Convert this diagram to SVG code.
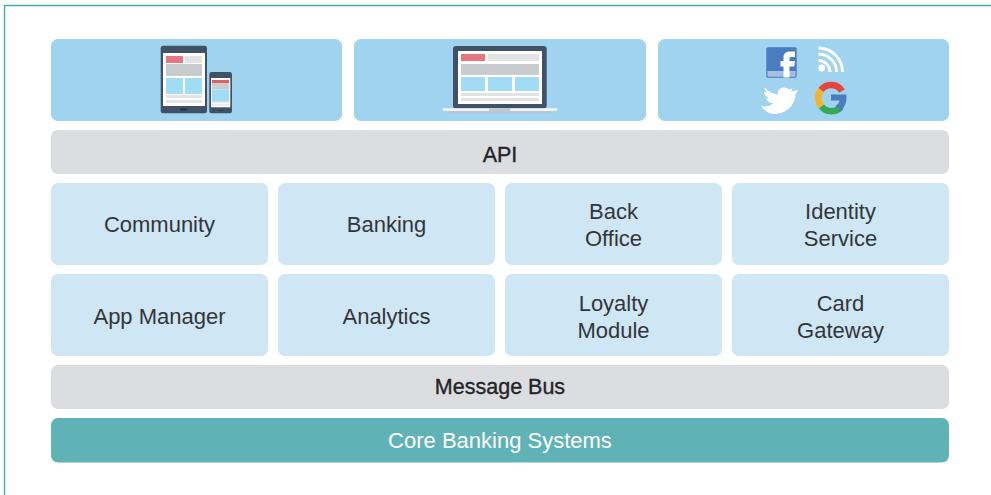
<svg xmlns="http://www.w3.org/2000/svg" width="991" height="495" viewBox="0 0 991 495">
<style>
text{font-family:"Liberation Sans",Arial,sans-serif;font-size:22px;text-anchor:middle;fill:#333639}
.strong{font-size:21.500px;fill:#232427;stroke:#232427;stroke-width:.35px}
.top{fill:#9fd3ef}.gray{fill:#dcdde0}.mod{fill:#cfe6f4}.core{fill:#5fb3b6}
.dark{fill:#3f5266}.scr{fill:#fff}.red{fill:#e8767e}.lg{fill:#e2e3e3}.mg{fill:#c9cccf}.bl{fill:#a0dcf4}
</style>
<rect width="991" height="495" fill="#fff"/>
<path d="M4.500 495V5.500H991" fill="none" stroke="#3fb0ac" stroke-width="1.400"/>
<g id="connectors"/>
<g id="channel-mobile">
<rect class="top" x="51" y="39" width="291" height="82" rx="7"/>
<rect class="dark" x="160.700" y="45.700" width="46.300" height="67.600" rx="2.500"/>
<rect class="scr" x="163" y="53" width="42" height="53"/>
<rect class="red" x="166" y="56" width="17" height="7"/><rect class="lg" x="185" y="56" width="17" height="7"/>
<rect class="mg" x="166" y="64" width="36" height="12"/>
<rect class="bl" x="166" y="78" width="17" height="16"/><rect class="bl" x="185" y="78" width="17" height="16"/>
<rect class="lg" x="166" y="95" width="36" height="3"/><rect class="lg" x="166" y="100" width="36" height="3"/>
<rect x="180" y="108" width="7.500" height="2.800" rx="1.400" fill="#2c3b4a"/>
<rect class="dark" x="209.300" y="72" width="22.700" height="41.300" rx="2.500"/>
<rect class="scr" x="211" y="78" width="19.300" height="29.300"/>
<rect x="212" y="80" width="17" height="3" fill="#dd5f62"/><rect class="mg" x="212" y="83" width="17" height="6.300"/><rect class="bl" x="212" y="89.300" width="17" height="12.400"/>
<rect class="lg" x="212" y="102.300" width="17" height="1"/><rect class="lg" x="212" y="104.300" width="17" height="1"/>
<rect x="218.300" y="110" width="5" height="1" fill="#2c3b4a"/>
</g>
<g id="channel-web">
<rect class="top" x="354" y="39" width="292" height="82" rx="7"/>
<rect class="dark" x="453" y="46" width="93.700" height="62.500" rx="3"/>
<rect class="scr" x="458" y="51" width="84" height="53"/>
<rect class="red" x="461" y="54" width="24" height="7"/><rect class="lg" x="488" y="54" width="51" height="7"/>
<rect class="mg" x="461" y="64" width="78" height="11"/>
<rect class="bl" x="461" y="77" width="24" height="14"/><rect class="bl" x="488" y="77" width="24" height="14"/><rect class="bl" x="515" y="77" width="24" height="14"/>
<rect class="lg" x="461" y="93" width="78" height="3"/><rect class="lg" x="461" y="98" width="78" height="3"/>
<path d="M442.700 108.300H557.300V110.500L555 111H445L442.700 110.500Z" fill="#f1f5f7"/>
<path d="M445 111H555L550 113H450Z" fill="#b9c6d0"/>
<rect x="489" y="108.300" width="21" height="3" fill="#bfc8ce"/>
</g>
<g id="channel-social">
<rect class="top" x="658" y="39" width="291" height="82" rx="7"/>
<rect x="766.300" y="47.300" width="30.400" height="30.400" rx="1.500" fill="#4a7cc0"/>
<rect x="767.500" y="71" width="28" height="5.700" fill="#a9bfe2"/>
<path d="M783.500 77.500V66.500H780.500V61H783.500V57.500C783.500 53.500 786 51.500 790 51.500H795V57H791.500C790 57 789.500 57.500 789.500 59V61H795L794.300 66.500H789.500V77.500Z" fill="#fff"/>
<circle cx="821.700" cy="68" r="3.400" fill="#fff"/>
<path d="M818.500 60.500A11.500 11.500 0 0 1 830 72M818.500 54A18 18 0 0 1 836.500 72M818.500 48A24 24 0 0 1 842.500 72" fill="none" stroke="#fff" stroke-width="2.800"/>
<path d="M761 106C766 107 770 106 773 103.500C769 103 767 101 766 98.500L769 98.300C766 97 764 94.500 764 91.500L767 92.300C764.500 90 764 87 765.500 88C769 92 773 94 778 94.500C777.500 90 781 87 785 87.700C787 88 788 88.500 789 89.500L793 88L791 91.500L798.500 90L795.500 94C795.500 104 787 114 774 114C769 114 764.500 110.500 761 106Z" fill="#fff"/>
<g fill="none" stroke-width="6.500">
<path d="M842 91A12.800 12.800 0 0 0 821 90" stroke="#e5453a"/>
<path d="M821 90A12.800 12.800 0 0 0 821.500 106.500" stroke="#f3b32a"/>
<path d="M821.500 106.500A12.800 12.800 0 0 0 841 107" stroke="#34a853"/>
</g>
<path d="M831 94.500H846.300C847 102 845 107 840.500 111L835.500 106C838 104.500 839 102.500 839.500 100.500H831Z" fill="#4a7cc0"/>
</g>
<g id="api"><rect class="gray" x="51" y="130" width="898" height="44" rx="7"/><text class="strong" x="500" y="162">API</text></g>
<g id="community"><rect class="mod" x="51" y="183" width="217" height="82" rx="7"/><text x="159.500" y="232">Community</text></g>
<g id="banking"><rect class="mod" x="278" y="183" width="217" height="82" rx="7"/><text x="386.500" y="232">Banking</text></g>
<g id="back-office"><rect class="mod" x="505" y="183" width="217" height="82" rx="7"/><text x="613.500" y="218.500">Back</text><text x="613.500" y="245.700">Office</text></g>
<g id="identity-service"><rect class="mod" x="732" y="183" width="217" height="82" rx="7"/><text x="840.500" y="218.500">Identity</text><text x="840.500" y="245.700">Service</text></g>
<g id="app-manager"><rect class="mod" x="51" y="274" width="217" height="82" rx="7"/><text x="159.500" y="324.300">App Manager</text></g>
<g id="analytics"><rect class="mod" x="278" y="274" width="217" height="82" rx="7"/><text x="386.500" y="324.300">Analytics</text></g>
<g id="loyalty-module"><rect class="mod" x="505" y="274" width="217" height="82" rx="7"/><text x="613.500" y="311">Loyalty</text><text x="613.500" y="337.700">Module</text></g>
<g id="card-gateway"><rect class="mod" x="732" y="274" width="217" height="82" rx="7"/><text x="840.500" y="311">Card</text><text x="840.500" y="337.700">Gateway</text></g>
<g id="message-bus"><rect class="gray" x="51" y="365" width="898" height="44" rx="7"/><text class="strong" x="500" y="394">Message Bus</text></g>
<g id="core-banking"><rect class="core" x="51" y="418" width="898" height="44.500" rx="7"/><text x="500" y="447.500" style="fill:#fff">Core Banking Systems</text></g>
</svg>
